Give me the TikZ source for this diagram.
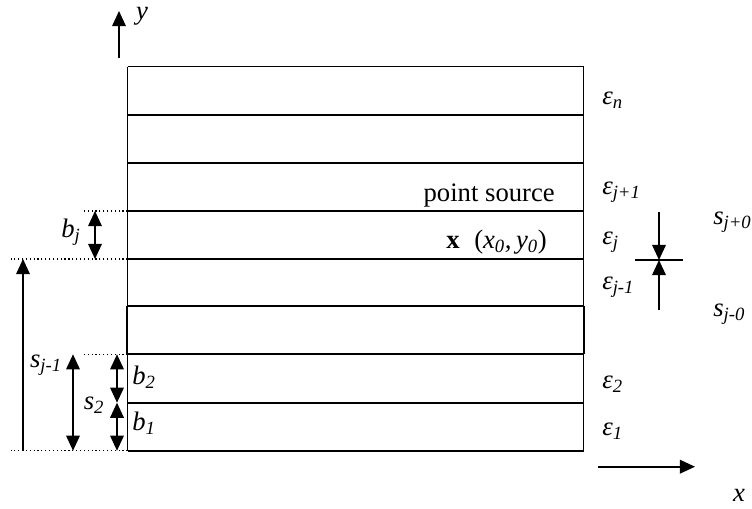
\documentclass[tikz,border=0pt]{standalone}
\usepackage{fontspec}
\setmainfont{Liberation Serif}
\usetikzlibrary{arrows.meta}

\newcommand{\lsub}[1]{\textsubscript{\itshape #1}}

\tikzset{
  bound/.style={line width=1.5pt},
  edge/.style={line width=0.8pt},
  guide/.style={line width=0.9pt,dotted},
  dim/.style={line width=1.2pt},
  lbl/.style={inner sep=0pt,anchor=west}
}

\begin{document}
\begin{tikzpicture}[x=0.75pt,y=-0.75pt,>={Triangle[length=4mm,width=3.6mm]},font=\fontsize{20}{24}\selectfont,line cap=butt]
\useasboundingbox (0,0) rectangle (752,508);
% layer boundaries on the left edge of the stack
\coordinate (s0) at (127.5,450.7);
\coordinate (s1) at (127.5,402.7);
\coordinate (s2) at (127.5,354.3);
\coordinate (s3) at (127.5,306.3);
\coordinate (sjm) at (127.5,259);
\coordinate (sj) at (127.5,211);
\coordinate (s6) at (127.5,162.7);
\coordinate (s7) at (127.5,115);
\coordinate (stop) at (127.5,66.7);
% the layers
\draw[edge] (stop) -- (s0);
\draw[edge] (583.5,66.7) -- (583.5,450.7);
\draw[edge] (stop) -- ++(456,0);
\foreach \c in {s0,s1,s2,s3,sjm,sj,s6,s7}
  \draw[bound] (\c) -- ++(456,0);
\draw[line width=1.4pt] (126.8,306.3) -- (126.8,354.3);
\draw[line width=1.4pt] (584.2,306.3) -- (584.2,354.3);
% dotted guides
\draw[guide] (sj) -- ++(-46,0);
\draw[guide] (sjm) -- ++(-117,0);
\draw[guide] (s2) -- ++(-46,0);
\draw[guide] (s0) -- ++(-117,0);
% thicknesses and heights
\draw[dim,<->] (95,0 |- sj) -- (95,0 |- sjm);
\draw[dim,->] (23,0 |- s0) -- (23,0 |- sjm);
\draw[dim,<->] (73,0 |- s2) -- (73,0 |- s0);
\draw[dim,<->] (117,0 |- s2) -- (117,0 |- s1);
\draw[dim,<->] (117,0 |- s1) -- (117,0 |- s0);
\node (bj) at (71,232) {\textit{b}\lsub{j}};
\node (sjml) at (46,365) {\textit{s}\lsub{j-1}};
\node (b2) at (144,377) {\textit{b}\lsub{2}};
\node (b1) at (144,423) {\textit{b}\lsub{1}};
\node (s2l) at (94,405) {\textit{s}\lsub{2}};
% permittivities
\node[lbl] (epsn) at (602,100) {\textit{ε}\lsub{n}};
\node[lbl] (epsjp) at (602,192) {\textit{ε}\lsub{j+1}};
\node[lbl] (epsj) at (602,242) {\textit{ε}\lsub{j}};
\node[lbl] (epsjm) at (602,287) {\textit{ε}\lsub{j-1}};
\node[lbl] (eps2) at (602,384) {\textit{ε}\lsub{2}};
\node[lbl] (eps1) at (602,431) {\textit{ε}\lsub{1}};
% interface marker
\coordinate (mark) at (659,260);
\draw[dim,->] (659,212) -- (mark);
\draw[dim,->] (659,310) -- (mark);
\draw[dim] (635,260) -- (683,260);
\node[lbl] (sjp) at (713,222) {\textit{s}\lsub{j+0}};
\node[lbl] (sjz) at (713,314) {\textit{s}\lsub{j-0}};
% source
\node[inner sep=0pt,anchor=base east] (src) at (555,201.7) {point source};
\node[inner sep=0pt,anchor=base west] (pos) at (446,248) {\textbf{x}\hspace{0.55em}(\textit{x}\lsub{0}\textit{,}\,\textit{y}\lsub{0})};
% axes
\draw[dim,->] (119,58) -- (119,11);
\node (ylab) at (142,16) {\textit{y}};
\draw[dim,->] (598,466.7) -- (695,466.7);
\node[inner sep=0pt,anchor=base] (xlab) at (739,501) {\textit{x}};
\end{tikzpicture}
\end{document}
